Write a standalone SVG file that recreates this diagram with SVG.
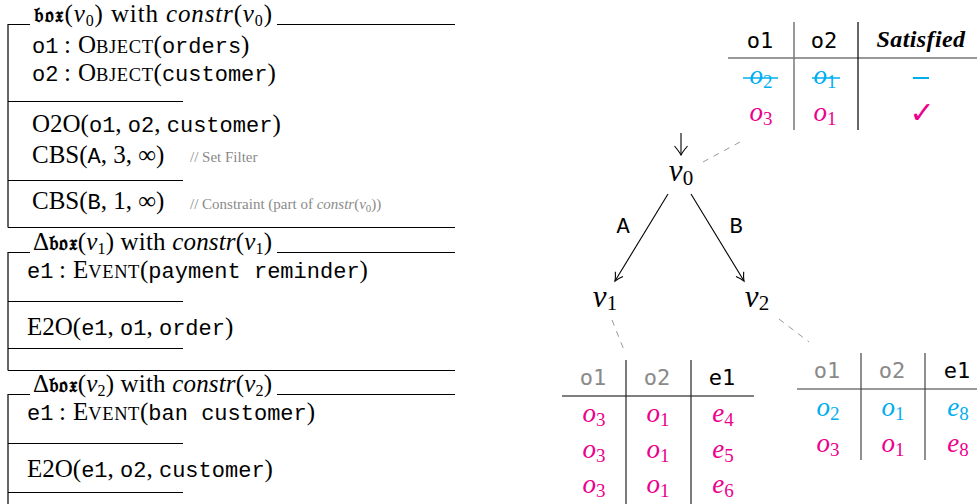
<svg xmlns="http://www.w3.org/2000/svg" width="977" height="504" viewBox="0 0 977 504">
<style>
.rm{font-family:"Liberation Serif",serif;font-size:25px;fill:#000}
.tt{font-family:"Liberation Mono",monospace;font-size:22px}
.it{font-style:italic}
.sc{font-size:18.5px;letter-spacing:0.6px}
.sub{font-size:16px}
.frak{font-family:"DejaVu Serif","DejaVu Sans","Noto Sans",serif;font-weight:bold;font-size:21px}
.cm{font-family:"Liberation Serif",serif;font-size:15px;fill:#8a8a8a}
.ln{stroke:#000;stroke-width:1.2;fill:none}
.hd{font-family:"DejaVu Sans Mono",monospace;font-size:22px;text-anchor:middle}
.g{fill:#8a8a8a}
.mi{font-family:"Liberation Serif",serif;font-style:italic;font-size:27px;text-anchor:middle}
.ms{font-size:19px;font-style:normal}
.cy{fill:#00AEEF}
.mg{fill:#EC008C}
.bi{font-family:"Liberation Serif",serif;font-weight:bold;font-style:italic;font-size:24px;text-anchor:middle;letter-spacing:0.4px}
.nd{font-family:"Liberation Serif",serif;font-style:italic;font-size:31px;text-anchor:middle}
.ns{font-size:21px;font-style:normal}
.lbl{font-family:"Liberation Mono",monospace;font-size:22px;text-anchor:middle}
.dash{stroke:#999;stroke-width:1;stroke-dasharray:6 6;fill:none}
.edge{stroke:#000;stroke-width:1.1;fill:none;marker-end:url(#to)}
</style>
<defs>
<marker id="to" viewBox="-10 -6 12 12" refX="0" refY="0" markerWidth="12" markerHeight="12" orient="auto" markerUnits="userSpaceOnUse">
<path d="M-8,-4.5 Q-3,-1 0,0 Q-3,1 -8,4.5" fill="none" stroke="#000" stroke-width="1.1"/>
</marker>
<marker id="down" viewBox="-10 -8 12 16" refX="0" refY="0" markerWidth="12" markerHeight="16" orient="auto" markerUnits="userSpaceOnUse">
<path d="M-9,-6.5 Q-3,-1.5 0,0 Q-3,1.5 -9,6.5" fill="none" stroke="#000" stroke-width="1.1"/>
</marker>
</defs>
<rect width="977" height="504" fill="#fff"/>

<g id="box-v0">
<path class="ln" d="M8,227.5 V24.5 H30 M277,24.5 H455 M8,101.5 H183 M8,180.5 H183 M8,227.5 H455"/>
<text class="rm" x="34" y="22" textLength="238" lengthAdjust="spacing"><tspan class="frak">𝔟𝔬𝔵</tspan>(<tspan class="it">v</tspan><tspan class="sub" dy="4">0</tspan><tspan dy="-4">) with </tspan><tspan class="it">constr</tspan>(<tspan class="it">v</tspan><tspan class="sub" dy="4">0</tspan><tspan dy="-4">)</tspan></text>
<text class="rm" y="53"><tspan class="tt" x="32">o1</tspan><tspan x="64">:</tspan><tspan x="78">O</tspan><tspan class="sc">BJECT</tspan>(<tspan class="tt">orders</tspan>)</text>
<text class="rm" y="81"><tspan class="tt" x="32">o2</tspan><tspan x="64">:</tspan><tspan x="78">O</tspan><tspan class="sc">BJECT</tspan>(<tspan class="tt">customer</tspan>)</text>
<text class="rm" x="32" y="132">O2O(<tspan class="tt">o1</tspan>, <tspan class="tt">o2</tspan>, <tspan class="tt">customer</tspan>)</text>
<text class="rm" x="32" y="163">CBS(<tspan class="tt">A</tspan>, 3, ∞)</text>
<text class="cm" x="190" y="162">// Set Filter</text>
<text class="rm" x="32" y="209">CBS(<tspan class="tt">B</tspan>, 1, ∞)</text>
<text class="cm" x="190" y="209">// Constraint (part of <tspan font-style="italic">constr</tspan>(<tspan font-style="italic">v</tspan><tspan font-size="11" dy="3">0</tspan><tspan dy="-3">))</tspan></text>
</g>

<g id="box-v1">
<path class="ln" d="M8,370.5 V252.5 H30 M277,252.5 H455 M8,301.5 H183 M8,348.5 H183 M8,370.5 H455"/>
<text class="rm" x="33" y="250" textLength="239" lengthAdjust="spacing">Δ<tspan class="frak">𝔟𝔬𝔵</tspan>(<tspan class="it">v</tspan><tspan class="sub" dy="4">1</tspan><tspan dy="-4">) with </tspan><tspan class="it">constr</tspan>(<tspan class="it">v</tspan><tspan class="sub" dy="4">1</tspan><tspan dy="-4">)</tspan></text>
<text class="rm" y="278"><tspan class="tt" x="27">e1</tspan><tspan x="59">:</tspan><tspan x="73">E</tspan><tspan class="sc">VENT</tspan>(<tspan class="tt">payment reminder</tspan>)</text>
<text class="rm" x="27" y="335">E2O(<tspan class="tt">e1</tspan>, <tspan class="tt">o1</tspan>, <tspan class="tt">order</tspan>)</text>
</g>

<g id="box-v2">
<path class="ln" d="M8,504 V394.5 H30 M277,394.5 H455 M8,443.5 H183 M8,492.5 H183"/>
<text class="rm" x="33" y="392" textLength="239" lengthAdjust="spacing">Δ<tspan class="frak">𝔟𝔬𝔵</tspan>(<tspan class="it">v</tspan><tspan class="sub" dy="4">2</tspan><tspan dy="-4">) with </tspan><tspan class="it">constr</tspan>(<tspan class="it">v</tspan><tspan class="sub" dy="4">2</tspan><tspan dy="-4">)</tspan></text>
<text class="rm" y="420"><tspan class="tt" x="27">e1</tspan><tspan x="59">:</tspan><tspan x="73">E</tspan><tspan class="sc">VENT</tspan>(<tspan class="tt">ban customer</tspan>)</text>
<text class="rm" x="27" y="477">E2O(<tspan class="tt">e1</tspan>, <tspan class="tt">o2</tspan>, <tspan class="tt">customer</tspan>)</text>
</g>

<g id="table-v0">
<line x1="728" y1="58" x2="977" y2="58" stroke="#777" stroke-width="1.5"/>
<line x1="794" y1="22" x2="794" y2="130" stroke="#777" stroke-width="1.5"/>
<line x1="858" y1="22" x2="858" y2="130" stroke="#000" stroke-width="1.2"/>
<text class="hd" x="760" y="48">o1</text>
<text class="hd" x="824" y="48">o2</text>
<text class="bi" x="921" y="47">Satisfied</text>
<text class="mi cy" x="761" y="84">o<tspan class="ms" dy="4">2</tspan></text>
<text class="mi cy" x="825" y="84">o<tspan class="ms" dy="4">1</tspan></text>
<line x1="743" y1="78" x2="778" y2="78" stroke="#00AEEF" stroke-width="1.5"/>
<line x1="812" y1="78" x2="840" y2="78" stroke="#00AEEF" stroke-width="1.5"/>
<line x1="913" y1="78" x2="929" y2="78" stroke="#00AEEF" stroke-width="2"/>
<text class="mi mg" x="761" y="121">o<tspan class="ms" dy="4">3</tspan></text>
<text class="mi mg" x="825" y="121">o<tspan class="ms" dy="4">1</tspan></text>
<text x="922" y="123" fill="#EC008C" font-family="DejaVu Sans,sans-serif" font-size="30" text-anchor="middle">✓</text>
</g>

<g id="node-v0">
<text class="nd" x="681" y="181">v<tspan class="ns" dy="4">0</tspan></text>
</g>
<g id="node-v1">
<text class="nd" x="605" y="307">v<tspan class="ns" dy="3">1</tspan></text>
</g>
<g id="node-v2">
<text class="nd" x="757" y="307">v<tspan class="ns" dy="3">2</tspan></text>
</g>

<g id="connectors">
<path d="M681,133 V155" stroke="#000" stroke-width="1.1" fill="none" marker-end="url(#down)"/>
<path class="edge" d="M668,194 L615,281"/>
<path class="edge" d="M691,194 L744,281"/>
<text class="lbl" x="623" y="233">A</text>
<text class="lbl" x="736" y="233">B</text>
<path class="dash" d="M703,162 L740,142"/>
<path class="dash" d="M612,320 L624,350"/>
<path class="dash" d="M779,319 L809,342"/>
</g>

<g id="table-v1">
<line x1="562" y1="396" x2="754" y2="396" stroke="#000" stroke-width="1.2"/>
<line x1="626" y1="360" x2="626" y2="504" stroke="#222" stroke-width="1.2"/>
<line x1="691" y1="360" x2="691" y2="504" stroke="#222" stroke-width="1.2"/>
<text class="hd g" x="593" y="385">o1</text>
<text class="hd g" x="657" y="385">o2</text>
<text class="hd" x="722" y="385">e1</text>
<text class="mi mg" x="594" y="422">o<tspan class="ms" dy="4">3</tspan></text>
<text class="mi mg" x="658" y="422">o<tspan class="ms" dy="4">1</tspan></text>
<text class="mi mg" x="723" y="422">e<tspan class="ms" dy="4">4</tspan></text>
<text class="mi mg" x="594" y="458">o<tspan class="ms" dy="4">3</tspan></text>
<text class="mi mg" x="658" y="458">o<tspan class="ms" dy="4">1</tspan></text>
<text class="mi mg" x="723" y="458">e<tspan class="ms" dy="4">5</tspan></text>
<text class="mi mg" x="594" y="493">o<tspan class="ms" dy="4">3</tspan></text>
<text class="mi mg" x="658" y="493">o<tspan class="ms" dy="4">1</tspan></text>
<text class="mi mg" x="723" y="493">e<tspan class="ms" dy="4">6</tspan></text>
</g>

<g id="table-v2">
<line x1="797" y1="389" x2="977" y2="389" stroke="#777" stroke-width="1.5"/>
<line x1="861" y1="353" x2="861" y2="460" stroke="#444" stroke-width="1.2"/>
<line x1="925" y1="353" x2="925" y2="460" stroke="#444" stroke-width="1.2"/>
<text class="hd g" x="827" y="378">o1</text>
<text class="hd g" x="892" y="378">o2</text>
<text class="hd" x="957" y="378">e1</text>
<text class="mi cy" x="828" y="416">o<tspan class="ms" dy="4">2</tspan></text>
<text class="mi cy" x="893" y="416">o<tspan class="ms" dy="4">1</tspan></text>
<text class="mi cy" x="958" y="416">e<tspan class="ms" dy="4">8</tspan></text>
<text class="mi mg" x="828" y="452">o<tspan class="ms" dy="4">3</tspan></text>
<text class="mi mg" x="893" y="452">o<tspan class="ms" dy="4">1</tspan></text>
<text class="mi mg" x="958" y="452">e<tspan class="ms" dy="4">8</tspan></text>
</g>
</svg>
